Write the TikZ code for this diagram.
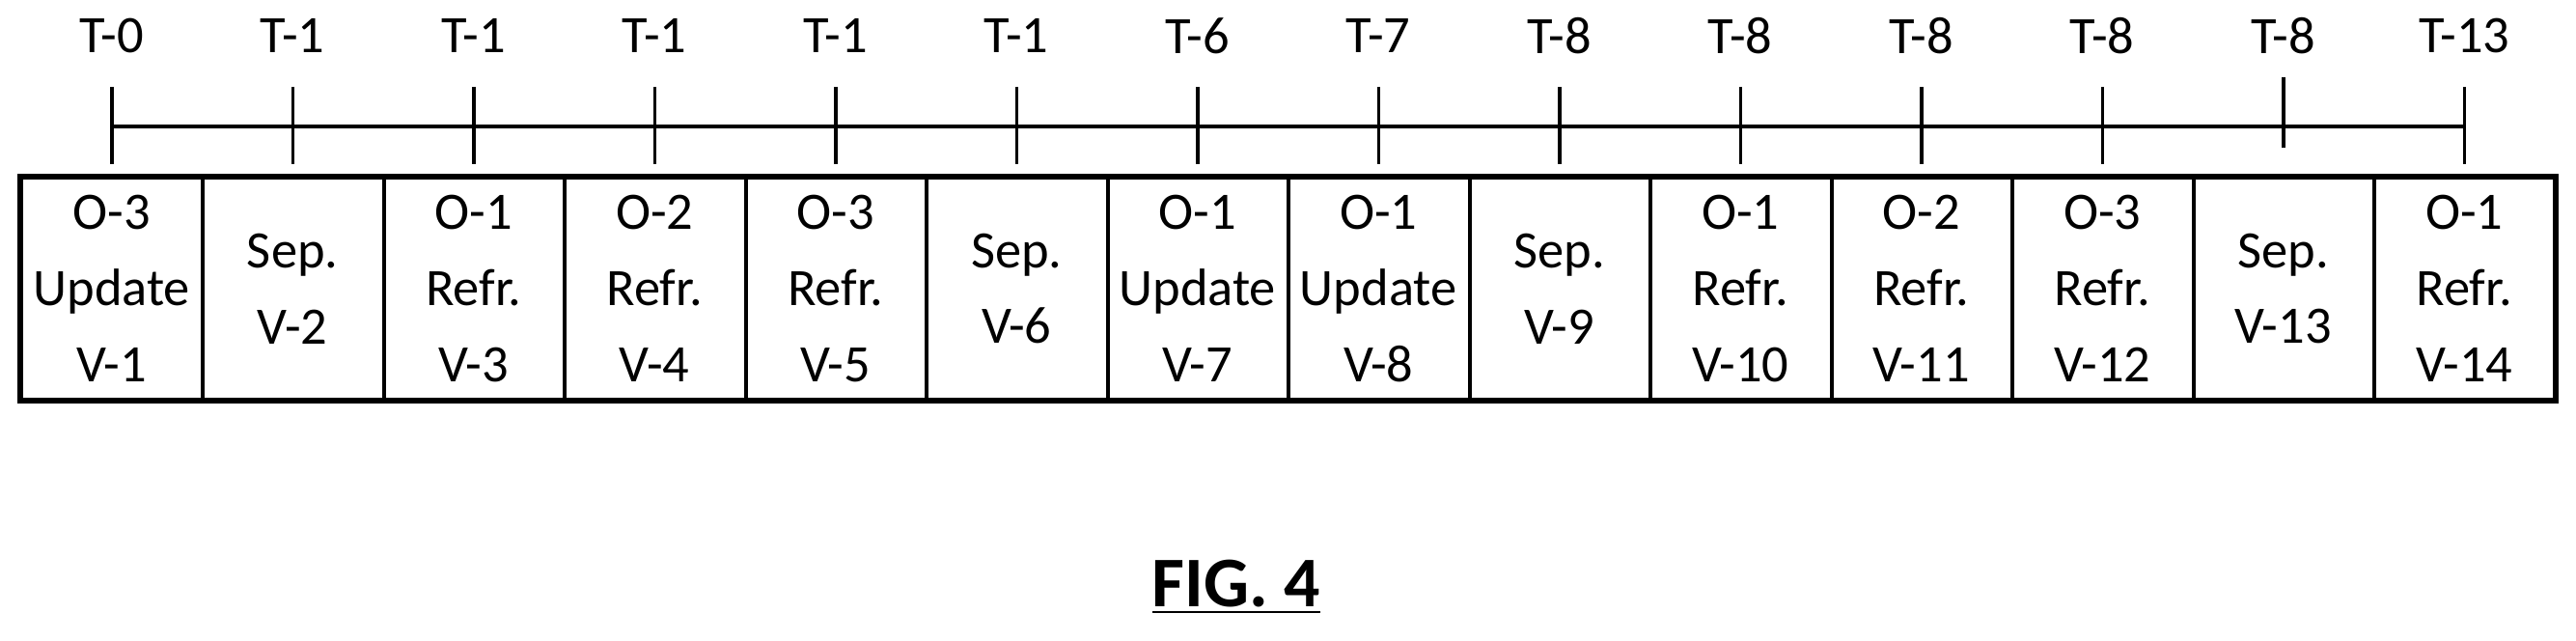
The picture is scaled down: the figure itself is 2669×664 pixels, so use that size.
\documentclass[tikz,border=0pt]{standalone}
\usepackage{fontspec}
\setmainfont{Carlito}
\usetikzlibrary{positioning}
\begin{document}
\begin{tikzpicture}[x=0.1mm, y=-0.1mm, cell/.style={draw=none, minimum width=18.75mm, minimum height=23mm, align=center, font=\fontsize{15.5}{22.4}\selectfont}, tlabel/.style={font=\fontsize{15.5}{20}\selectfont}]
	\useasboundingbox (0,0) rectangle (2669,664);
	\foreach \t [count=\i] in {{O-3\\Update\\V-1},{Sep.\\V-2},{O-1\\Refr.\\V-3},{O-2\\Refr.\\V-4},{O-3\\Refr.\\V-5},{Sep.\\V-6},{O-1\\Update\\V-7},{O-1\\Update\\V-8},{Sep.\\V-9},{O-1\\Refr.\\V-10},{O-2\\Refr.\\V-11},{O-3\\Refr.\\V-12},{Sep.\\V-13},{O-1\\Refr.\\V-14}}{
		\node[cell] (c\i) at ({22+187.5*(\i-0.5)},299) {\t};
		\draw[line width=0.4mm] (c\i.north east) -- (c\i.south east);
	}
	\foreach \l [count=\i] in {T-0,T-1,T-1,T-1,T-1,T-1,T-6,T-7,T-8,T-8,T-8,T-8,T-8,T-13}{
		\node[tlabel] (t\i) at ({22+187.5*(\i-0.5)},37) {\l};
	}
	\draw[line width=0.6mm] (c1.north west) rectangle (c14.south east);
	\coordinate (a) at (c1.north |- 0,131);
	\coordinate (b) at (c14.north |- 0,131);
	\draw[line width=0.35mm] (a) -- (b);
	\foreach \i in {1,...,12,14}{
		\draw[line width=0.35mm] (c\i.north |- 0,90) -- (c\i.north |- 0,170);
	}
	\draw[line width=0.35mm] (c13.north |- 0,80) -- (c13.north |- 0,153);
	\node[font=\fontsize{21}{24}\selectfont\bfseries] (fig) at (1281,608) {\underline{FIG. 4}};
\end{tikzpicture}
\end{document}
